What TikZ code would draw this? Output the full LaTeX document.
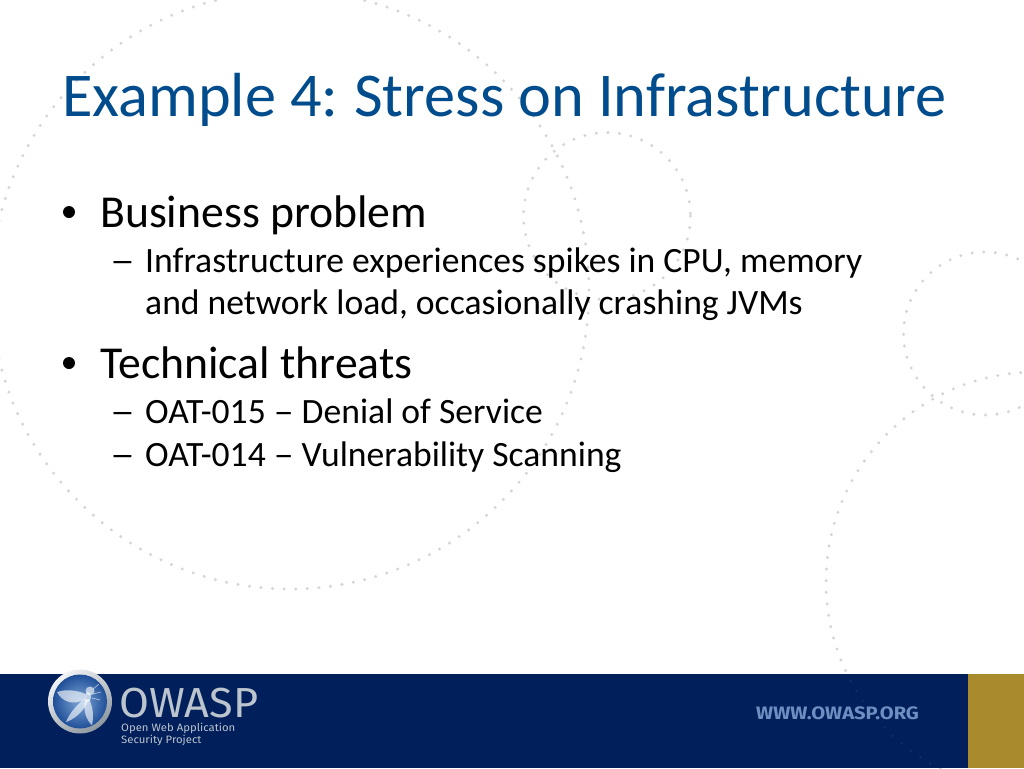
\documentclass[tikz,border=0pt]{standalone}
\usepackage{fontspec}
\setmainfont{Carlito}
\newfontfamily\logofont[FakeStretch=1.03]{Fira Sans}
\newfontfamily\tagfont[FakeStretch=1.06]{Fira Sans}
\newfontfamily\urlfont[FakeStretch=1.12]{Fira Sans}
\newfontfamily\dashfont[FakeStretch=1.4]{Carlito}
\newfontfamily\indash[FakeStretch=1.12]{Carlito}
\definecolor{titleblue}{HTML}{004C8C}
\definecolor{navy}{HTML}{001F5B}
\definecolor{gold}{HTML}{A98B2D}
\definecolor{dotgray}{HTML}{D4D6D6}
\definecolor{urlblue}{HTML}{6E8DC0}
\definecolor{logogray}{HTML}{BCC4CE}
\definecolor{orbin}{HTML}{7FA6D6}
\definecolor{orbout}{HTML}{1F4F98}
\definecolor{ringlight}{HTML}{F2F4F5}
\definecolor{ringdark}{HTML}{8E97A0}
\begin{document}
\begin{tikzpicture}[x=1pt,y=-1pt,
  dots/.style={draw=dotgray,line width=3.3pt,line cap=round,dash pattern=on 0pt off 11.6pt},
  footdots/.style={draw=navy!94!white,line width=3pt,line cap=round,dash pattern=on 0pt off 11.6pt},
  titletext/.style={anchor=base west,inner sep=0pt,font=\fontsize{62.3}{62.3}\selectfont,text=titleblue},
  lone/.style={anchor=base west,inner sep=0pt,font=\fontsize{45.7}{45.7}\selectfont},
  ltwo/.style={anchor=base west,inner sep=0pt,font=\fontsize{35.6}{35.6}\selectfont},
  bullet/.style={circle,fill=black,inner sep=0pt,minimum size=12pt},
  wing/.style={fill=white,fill opacity=0.62},
  logotext/.style={anchor=base west,inner sep=0pt,text=logogray,font=\tagfont\fontsize{10.7}{10.7}\selectfont}]
\useasboundingbox (0,0) rectangle (1024,768);
\fill[white] (0,0) rectangle (1024,768);
\draw[dots] (290,290) circle (299);
\draw[dots] (607,216) circle (83.5);
\draw[dots] (985,333.5) circle (81.5);
\draw[dots] (1036,582) circle (210);
\fill[navy] (0,674) rectangle (968,768);
\begin{scope}
\clip (0,674) rectangle (968,764);
\draw[footdots] (1036,582) circle (210);
\end{scope}
\fill[gold] (968,674) rectangle (1024,768);
\node[titletext] (title) at (62,116) {Example 4:\kern-3pt{} Stress on Infrastructure};
\node[lone] (b1) at (100,227) {Business problem};
\node[bullet] (p1) at (69,212) {};
\node[bullet] (p2) at (69,363) {};
\node[ltwo] (d1) at (110,272.5) {\dashfont –};
\node[ltwo] (s1) at (145,272.5) {Infrastructure experiences spikes in CPU, memory};
\node[ltwo] (s2) at (145,314.5) {and network load, occasionally crashing JVMs};
\node[lone] (b2) at (100,378) {Technical threats};
\node[ltwo] (s3) at (145,423.5) {OAT-015 {\indash –} Denial of Service};
\node[ltwo] (s4) at (145,466.5) {OAT-014 {\indash –} Vulnerability Scanning};
\node[ltwo] (d3) at (110,423.5) {\dashfont –};
\node[ltwo] (d4) at (110,466.5) {\dashfont –};
% logo orb
\shade[left color=ringlight,right color=ringdark,shading angle=35] (80,701.5) circle (32);
\shade[inner color=orbin,outer color=orbout] (80,701.5) circle (27);
\fill[wing] (86,694) .. controls (76,690) and (66,689) .. (57,692) .. controls (62,702) and (74,706) .. (85,699) -- cycle;
\fill[wing] (85,698) .. controls (78,704) and (70,712) .. (66,722) .. controls (75,719) and (84,711) .. (88,701) -- cycle;
\fill[wing] (85,700) .. controls (83,710) and (86,720) .. (92,725) .. controls (94,716) and (93,707) .. (89,699) -- cycle;
\fill[wing] (90,691) circle (4.5);
\fill[wing] (88,697) ellipse (3 and 5);
\draw[white,opacity=.6,line width=.7pt] (93,689) -- (99,684) (93,694) -- (101,692) (92,698) -- (100,700);
\node[anchor=base west,inner sep=0pt,text=logogray,font=\logofont\fontsize{42}{42}\selectfont] (logo) at (119,717) {OWASP};
\node[logotext] (l1) at (121,731) {Open Web Application};
\node[logotext] (l2) at (121,743) {Security Project};
\node[anchor=base west,inner sep=0pt,text=urlblue,font=\urlfont\bfseries\fontsize{18}{18}\selectfont] (url) at (756,719) {WWW.OWASP.ORG};
\end{tikzpicture}
\end{document}
